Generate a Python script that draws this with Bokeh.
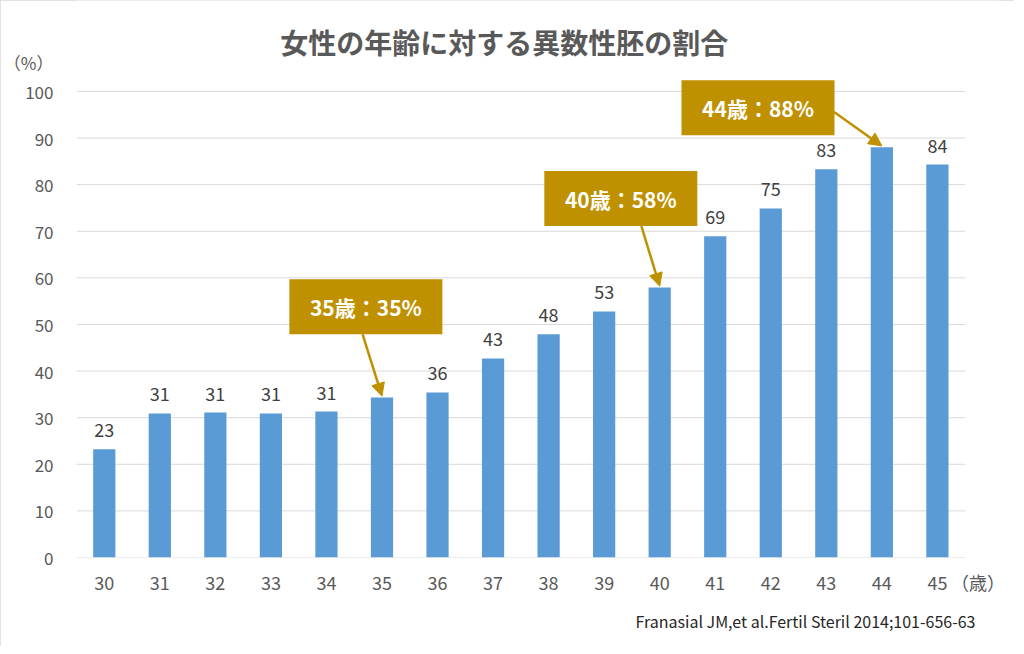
from bokeh.plotting import figure
from bokeh.models import Range1d, FixedTicker, Arrow, NormalHead, ColumnDataSource, Title, Label
from bokeh.embed import file_html
from bokeh.resources import INLINE
from bokeh.core.properties import value

# ---- data ----
ages = [30, 31, 32, 33, 34, 35, 36, 37, 38, 39, 40, 41, 42, 43, 44, 45]
rates = [23.2, 30.9, 31.1, 30.9, 31.3, 34.3, 35.4, 42.7, 47.9, 52.8, 57.9, 68.9, 74.9, 83.3, 88.0, 84.3]
bar_labels = ["23", "31", "31", "31", "31", "", "36", "43", "48", "53", "", "69", "75", "83", "", "84"]
y_ticks = [0, 10, 20, 30, 40, 50, 60, 70, 80, 90, 100]
callout_ages = [35, 40, 44]
callout_texts = ["35歳：35%", "40歳：58%", "44歳：88%"]

title_text = "女性の年齢に対する異数性胚の割合"
y_unit = "（%）"
x_unit = "（歳）"
source_text = "Franasial JM,et al.Fertil Steril 2014;101-656-63"

# ---- styles ----
BAR = "#5B9BD5"
GOLD = "#BF9000"
GRID = "#D9D9D9"
TXT = "#595959"
FONT = "Noto Sans CJK JP"

n = len(ages)
xs = list(range(n))
unit_x = n - 1 + 0.73     # position of the x unit label (layout)
unit_y = 106.3            # position of the y unit label (layout)
y_top = 119.5             # frame reaches the top edge so the title can sit inside it

p = figure(width=1014, height=646, output_backend="svg", toolbar_location=None,
           x_range=Range1d(-0.5, n - 0.5 + 0.6), y_range=Range1d(0, y_top),
           min_border_left=76, min_border_right=16, min_border_top=0, min_border_bottom=89)
p.outline_line_color = None
p.background_fill_color = "white"
p.border_fill_color = "white"
p.styles = {"outline": "1px solid #D9D9D9", "outline-offset": "-1px"}

# gridlines only across the category area
p.xgrid.grid_line_color = None
p.ygrid.grid_line_color = None
p.segment(x0=[-0.5] * len(y_ticks), x1=[n - 0.5] * len(y_ticks), y0=y_ticks, y1=y_ticks,
          line_color=GRID, line_width=1, level="underlay")

p.yaxis.ticker = FixedTicker(ticks=y_ticks + [unit_y])
p.yaxis.major_label_overrides = {unit_y: y_unit}
p.xaxis.ticker = FixedTicker(ticks=xs + [unit_x])
overrides = {i: str(a) for i, a in enumerate(ages)}
overrides[unit_x] = x_unit
p.xaxis.major_label_overrides = overrides
for ax in (p.xaxis, p.yaxis):
    ax.axis_line_color = None
    ax.major_tick_line_color = None
    ax.minor_tick_line_color = None
    ax.major_label_text_font = FONT
    ax.major_label_text_color = TXT
p.xaxis.major_label_text_font_size = "18px"
p.yaxis.major_label_text_font_size = "17px"
p.yaxis.major_label_standoff = 17
p.xaxis.major_label_standoff = 5

src = ColumnDataSource(dict(x=xs, top=rates, lab=bar_labels))
p.vbar(x="x", top="top", width=0.4, source=src, fill_color=BAR, line_color=None)
p.text(x="x", y="top", text="lab", source=src, text_align="center", text_baseline="bottom",
       y_offset=-12, text_font=value(FONT), text_font_size="18px", text_color="#404040")

# ---- callouts (layout offsets relative to target bar) ----
box_offsets = [(-0.29, 19.5), (-0.70, 19.1), (-2.23, 8.5)]
arrow_start_offsets = [(-0.06, -5.9), (0.37, -5.9), (1.37, -0.9)]
bx, by = [], []
for age, (dx, dy), (sx, sy) in zip(callout_ages, box_offsets, arrow_start_offsets):
    i = ages.index(age)
    cx, cy = i + dx, rates[i] + dy
    bx.append(cx)
    by.append(cy)
    p.add_layout(Arrow(end=NormalHead(size=13, fill_color=GOLD, line_color=GOLD),
                       x_start=cx + sx, y_start=cy + sy, x_end=i, y_end=rates[i] + 0.3,
                       line_color=GOLD, line_width=2.5))
csrc = ColumnDataSource(dict(x=bx, y=by, t=callout_texts))
p.rect(x="x", y="y", width=153, height=55, width_units="screen", height_units="screen",
       source=csrc, fill_color=GOLD, line_color=None)
p.text(x="x", y="y", text="t", source=csrc, text_align="center", text_baseline="middle",
       text_font=value(FONT), text_font_size="21px", text_font_style="bold", text_color="white")

# ---- title (inside the frame area) and source note ----
p.add_layout(Label(x=7.2, y=110.6, text=title_text, text_align="center", text_baseline="middle",
                   text_font=FONT, text_font_size="28px", text_font_style="bold", text_color=TXT))
p.add_layout(Title(text=source_text, align="right", offset=23, standoff=19,
                   text_font=FONT, text_font_size="16px", text_font_style="normal", text_color="#262626"), "below")

open("out.html", "w").write(file_html(p, INLINE))
